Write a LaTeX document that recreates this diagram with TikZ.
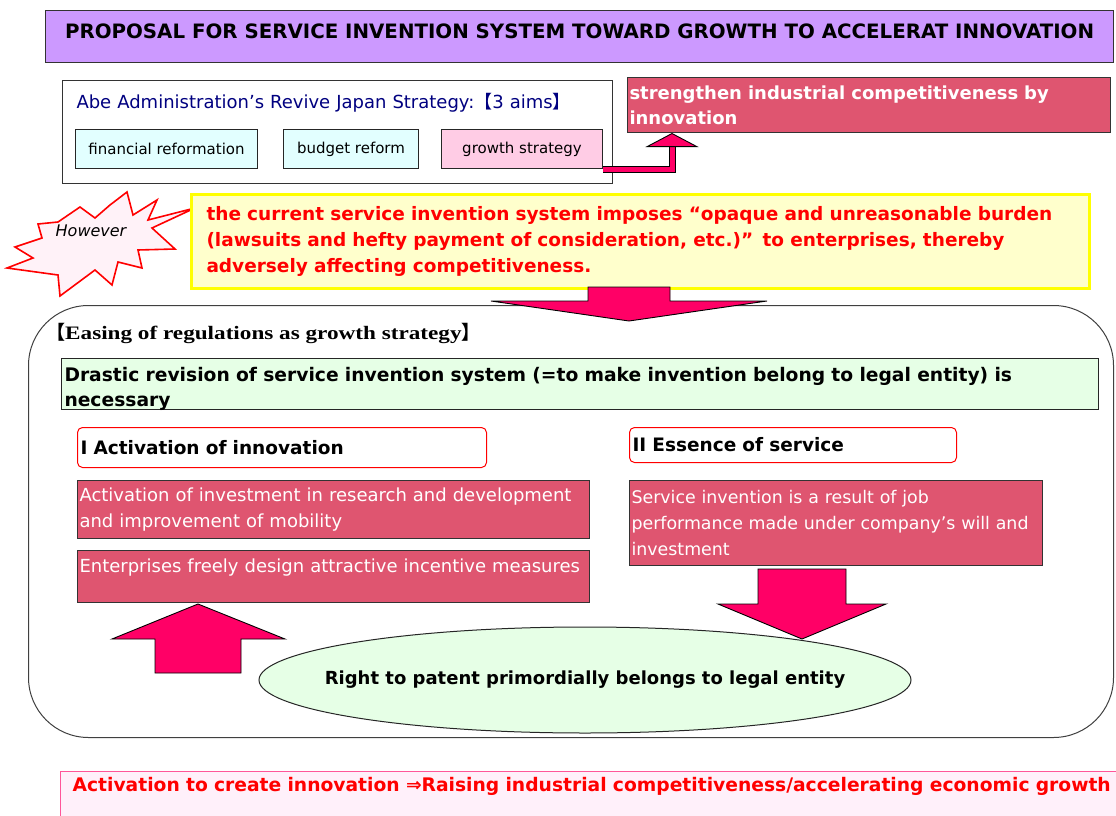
\documentclass[tikz,border=0pt]{standalone}
\usepackage{fontspec}
\setmainfont{DejaVu Sans}
\newfontfamily\cjk{Noto Sans CJK JP}
\newfontfamily\mincho[FakeStretch=1.22]{Liberation Serif}
\usepackage{tikz}
\usetikzlibrary{shapes.geometric, arrows.meta, positioning}
\definecolor{titlelilac}{HTML}{CC99FF}
\definecolor{aimnavy}{HTML}{000080}
\definecolor{aimcyan}{HTML}{E2FFFF}
\definecolor{aimpink}{HTML}{FFCCE5}
\definecolor{rosefill}{HTML}{DF5570}
\definecolor{arrowpink}{HTML}{FF0066}
\definecolor{notepaper}{HTML}{FFFFCC}
\definecolor{noteyellow}{HTML}{FFFF00}
\definecolor{notegreen}{HTML}{E6FFE6}
\definecolor{burstpink}{HTML}{FFF2F8}
\definecolor{resultpink}{HTML}{FFF0FA}
\definecolor{resultedge}{HTML}{FF5599}

\begin{document}
\begin{tikzpicture}[
    x=1pt, y=-1pt,
    node distance = 12pt,
    headbar/.style   = {draw=black!80, line width=1.2pt, fill=titlelilac, anchor=north west,
                        minimum width=1068pt, minimum height=52pt, text height=14pt, text depth=10pt,
                        font={\fontsize{19.8}{22}\selectfont\bfseries}},
    aimframe/.style  = {draw=black!80, line width=1pt, fill=white, anchor=north west,
                        inner xsep=14pt, inner ysep=0pt, align=left, text=aimnavy,
                        font={\fontsize{18}{22}\selectfont}},
    aimbox/.style    = {draw=black!85, line width=1pt, minimum height=39pt, inner sep=0pt,
                        font={\fontsize{15}{18}\selectfont}},
    roseblock/.style = {draw=black!80, line width=1pt, fill=rosefill, text=white, align=left,
                        inner xsep=2pt, inner ysep=2pt, anchor=north west,
                        font={\fontsize{18}{26}\selectfont}},
    notebox/.style   = {draw=noteyellow, line width=3pt, fill=notepaper, text=red, align=left,
                        inner xsep=15pt, anchor=north west,
                        font={\fontsize{18.5}{26}\selectfont\bfseries}},
    stance/.style    = {draw=black!85, line width=1pt, fill=notegreen, align=left,
                        inner xsep=3pt, inner ysep=0pt, anchor=north west,
                        font={\fontsize{18.7}{25}\selectfont\bfseries}},
    pillar/.style    = {draw=red, line width=1pt, rounded corners=5pt, fill=white, align=left,
                        inner xsep=3pt, anchor=north west,
                        font={\fontsize{18.5}{22}\selectfont\bfseries}},
    container/.style = {draw=black!75, line width=1pt, rounded corners=60pt, fill=white,
                        anchor=north west},
    burst/.style     = {draw=red, line width=1.6pt, fill=burstpink, line join=miter},
    blockarrow/.style= {fill=arrowpink, draw=black, line width=0.9pt, line join=miter},
    linkshadow/.style= {draw=black, line width=7pt, shorten >=8pt},
    link/.style      = {draw=arrowpink, line width=5pt,
                        -{Triangle[width=53pt, length=14pt, color=black, fill=arrowpink, line width=0.9pt]}},
    resultbox/.style = {draw=resultedge, line width=1.2pt, fill=resultpink, text=red, align=left,
                        inner xsep=12pt, inner ysep=0pt, anchor=north west,
                        font={\fontsize{18.7}{22}\selectfont\bfseries}}
  ]
  \useasboundingbox (0,0) rectangle (1116,816);
  \clip (0,0) rectangle (1116,816);

  % heading
  \node[headbar] (title) at (45,10)
    {PROPOSAL FOR SERVICE INVENTION SYSTEM TOWARD GROWTH TO ACCELERAT INNOVATION};

  % three aims
  \node[aimframe, text width=522pt, text height=28pt, text depth=75pt] (abe) at (62,80)
    {Abe Administration’s Revive Japan Strategy:{\cjk【}3 aims{\cjk】}};
  \node[aimbox, fill=aimcyan, minimum width=182pt, anchor=north west] (fin) at (75,129) {financial reformation};
  \node[aimbox, fill=aimcyan, minimum width=135pt, right=25pt of fin] (budget) {budget reform};
  \node[aimbox, fill=aimpink, minimum width=161pt, right=22pt of budget] (growth) {growth strategy};

  \node[roseblock, font={\fontsize{18}{25}\selectfont\bfseries}, text width=479pt, minimum height=55pt]
    (strength) at (627,77) {strengthen industrial competitiveness by\\innovation};

  \draw[linkshadow] (growth.south east) -| ([xshift=45pt]strength.south west);
  \draw[link]       (growth.south east) -| ([xshift=45pt]strength.south west);

  % however
  \draw[burst] (127,192) -- (133,215) -- (157,200) -- (148,220) -- (195,208) -- (152,228)
    -- (175,249) -- (138,250) -- (142,268) -- (118,262) -- (112,285) -- (95,270) -- (60,296)
    -- (58,275) -- (7,268) -- (33,258) -- (15,247) -- (42,238) -- (38,224) -- (58,222)
    -- (80,207) -- (95,218) -- (110,205) -- cycle;
  \node[font={\fontsize{16}{18}\selectfont\itshape}] (however) at (91,231) {However};

  \node[notebox, text width=868pt, minimum height=94pt] (note) at (190,193)
    {the current service invention system imposes “opaque and unreasonable burden\\
     (lawsuits and hefty payment of consideration, etc.)” to enterprises, thereby\\
     adversely affecting competitiveness.};

  % easing of regulations
  \node[container, minimum width=1085pt, minimum height=432pt] (easing) at (28,305) {};
  \draw[blockarrow] (588,287) -- (670,287) -- (670,301) -- (767,301) -- (629,321)
    -- (491,301) -- (588,301) -- cycle;

  \node[anchor=west, inner sep=0pt, font={\mincho\fontsize{19}{22}\selectfont\bfseries}] (easetitle)
    at (46,333) {{\cjk【}Easing of regulations as growth strategy{\cjk】}};

  \node[stance, text width=1031pt, text height=23pt, text depth=28pt] (drastic) at (61,358)
    {Drastic revision of service invention system (=to make invention belong to legal entity) is\\necessary};

  \node[pillar, text width=403pt, minimum height=40pt] (pillarI) at (77,427) {I Activation of innovation};
  \node[pillar, text width=321pt, minimum height=35pt] (pillarII) at (629,427) {II Essence of service};

  \node[roseblock, below=12pt of pillarI.south west, anchor=north west, text width=508pt, minimum height=58pt]
    (invest) {Activation of investment in research and development\\and improvement of mobility};
  \node[roseblock, below=11pt of invest.south west, anchor=north west, text width=508pt,
    text height=20pt, text depth=28pt] (incentive) {Enterprises freely design attractive incentive measures};
  \node[roseblock, below=17pt of pillarII.south west, anchor=north west, text width=409pt, minimum height=85pt,
    font={\fontsize{17.4}{26}\selectfont}]
    (jobwork) {Service invention is a result of job\\performance made under company’s will and\\investment};

  \node[ellipse, draw=black!85, line width=1pt, fill=notegreen, minimum width=652pt, minimum height=106pt,
    inner xsep=-40pt, inner ysep=0pt, font={\fontsize{18}{22}\selectfont\bfseries}] (patent) at (585,680)
    {Right to patent primordially belongs to legal entity};

  \draw[blockarrow] (155,673) -- (241,673) -- (241,639) -- (285,639) -- (198,604)
    -- (112,639) -- (155,639) -- cycle;
  \draw[blockarrow] (758,569) -- (846,569) -- (846,604) -- (886,604) -- (802,639)
    -- (718,604) -- (758,604) -- cycle;

  % outcome
  \node[resultbox, text width=1060pt, text height=20pt, text depth=40pt] (result) at (60,771)
    {Activation to create innovation ⇒Raising industrial competitiveness/accelerating economic growth};
\end{tikzpicture}
\end{document}
